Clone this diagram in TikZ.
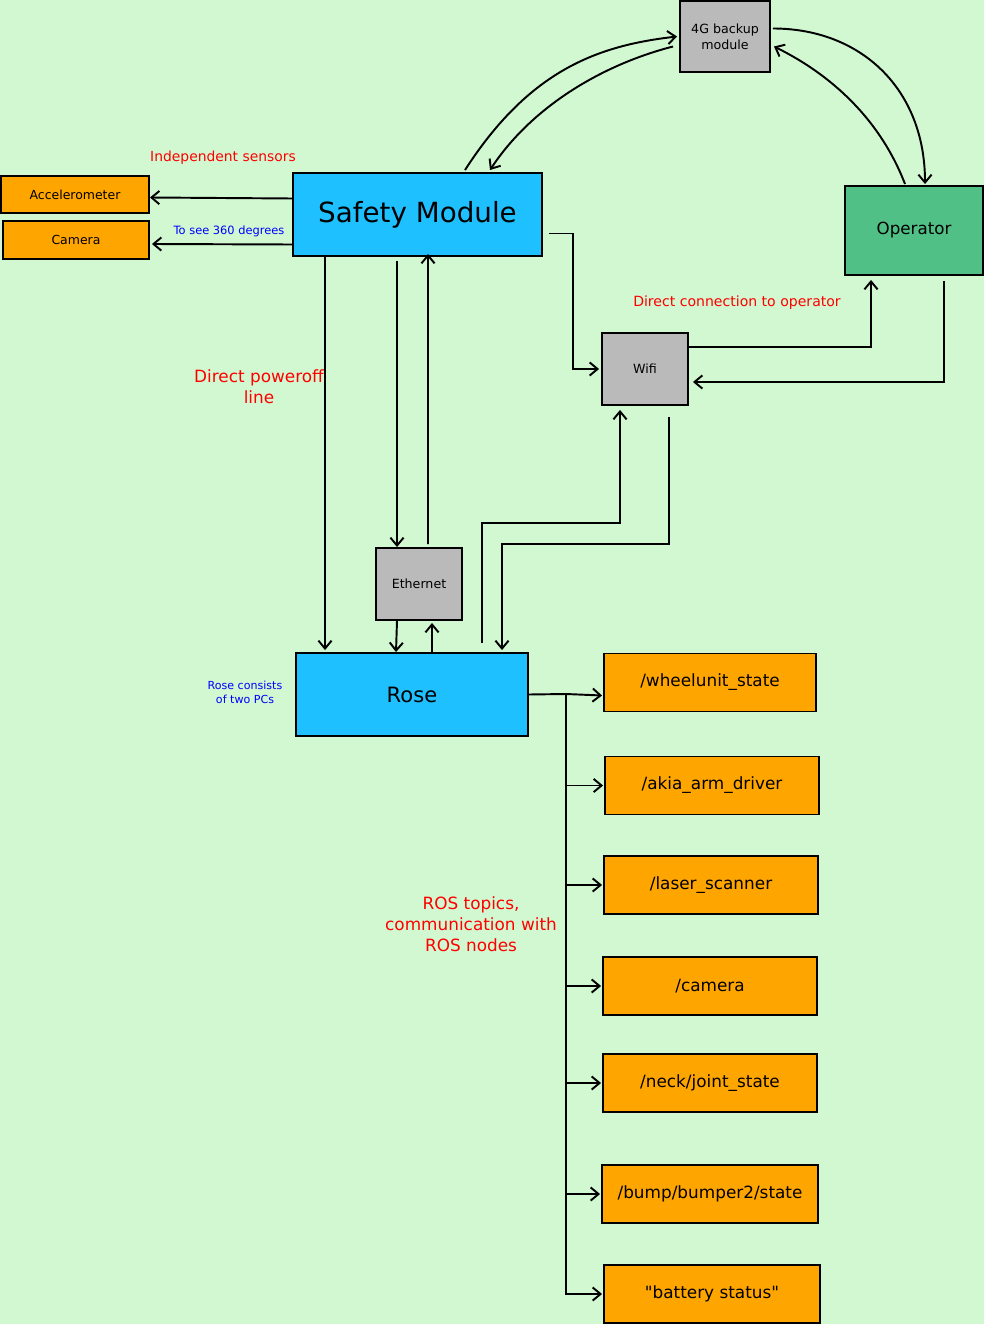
\documentclass[tikz,border=0pt]{standalone}
\usepackage{fontspec}
\setmainfont{DejaVu Sans}
\usetikzlibrary{arrows.meta,calc}
\definecolor{bggreen}{HTML}{D2F8D2}
\definecolor{boxorange}{HTML}{FFA500}
\definecolor{boxcyan}{HTML}{1EC0FF}
\definecolor{boxgray}{HTML}{BABABA}
\definecolor{opgreen}{HTML}{50C087}
\newcommand{\fs}[2]{\fontsize{#1}{#2}\selectfont}

\begin{document}
\begin{tikzpicture}[
  x=0.02cm, y=-0.02cm,
  every node/.style={inner sep=0pt},
  box/.style={draw=black, line width=1.1pt, align=center},
  sensor/.style={box, fill=boxorange, font=\fs{7.1}{8.5}},
  main/.style={box, fill=boxcyan},
  link/.style={box, fill=boxgray, minimum width=1.72cm, minimum height=1.44cm, font=\fs{7.2}{9}},
  topic/.style={box, fill=boxorange, minimum width=4.28cm, minimum height=1.16cm, font=\fs{9.6}{11}},
  arrow/.style={-{Straight Barb[length=4.5pt,width=7.5pt]}, line width=1.1pt},
  rednote/.style={align=center, text=red},
  bluenote/.style={align=center, text=blue}
]
\fill[bggreen] (0,0) rectangle (984,1324);
\useasboundingbox (0,0) rectangle (984,1324);

% boxes
\node[link, minimum width=1.8cm, minimum height=1.42cm] (g4) at (725,36.5) {4G backup\\module};
\node[main, minimum width=4.98cm, minimum height=1.66cm, font=\fs{15.8}{18}] (safety) at (417.5,214.5) {Safety Module};
\node[sensor, minimum width=2.96cm, minimum height=0.74cm] (acc) at (75,194.5) {Accelerometer};
\node[sensor, minimum width=2.92cm, minimum height=0.76cm] (cam) at (76,240) {Camera};
\node[box, fill=opgreen, minimum width=2.76cm, minimum height=1.78cm, font=\fs{9.5}{11}] (op) at (914,230.5) {Operator};
\node[link] (wifi) at (645,369) {Wifi};
\node[link] (eth) at (419,584) {Ethernet};
\node[main, minimum width=4.64cm, minimum height=1.66cm, font=\fs{12}{14}] (rose) at (412,694.5) {Rose};

% ROS topics
\node[topic, minimum width=4.24cm] (wheel) at (710,682.5) {/wheelunit\_state};
\node[topic] (akia) at (712,785.5) {/akia\_arm\_driver};
\node[topic] (laser) at (711,885) {/laser\_scanner};
\node[topic] (camtopic) at (710,986) {/camera};
\node[topic] (neck) at (710,1083) {/neck/joint\_state};
\node[topic, minimum width=4.32cm] (bump) at (710,1194) {/bump/bumper2/state};
\node[topic, minimum width=4.32cm] (batt) at (712,1294) {\textquotedbl battery status\textquotedbl};

% labels
\node[rednote, font=\fs{7.9}{9.5}] (lblsens) at (223,158) {Independent sensors};
\node[bluenote, font=\fs{6.5}{8}] (lbl360) at (229,231) {To see 360 degrees};
\node[rednote, font=\fs{9.6}{12}] (lblpower) at (259,386.5) {Direct poweroff\\line};
\node[rednote, font=\fs{8}{9.5}] (lbldirect) at (737,303) {Direct connection to operator};
\node[bluenote, font=\fs{6.3}{8}] (lblpcs) at (245,692) {Rose consists\\of two PCs};
\node[rednote, font=\fs{9.6}{12}] (lblros) at (471,924) {ROS topics,\\communication with\\ROS nodes};

% sensors
\draw[arrow] ($(safety.west)+(0,-16)$) -- ($(acc.east)+(0,3)$);
\draw[arrow] ($(safety.west)+(0,30)$) -- ($(cam.east)+(2,4)$);

% 4G backup links
\draw[arrow] ($(safety.north)+(47.5,-2)$) .. controls +(65,-101) and +(-78,9) .. ($(g4.west)+(-2,0)$);
\draw[arrow] ($(g4.west)+(-6,10)$) .. controls +(-74,19) and +(40,-61) .. ($(safety.north)+(72.5,-2)$);
\draw[arrow] ($(g4.east)+(2,-8)$) .. controls +(88,0) and +(0,-95) .. ($(op.north)+(11,-1)$);
\draw[arrow] ($(op.north)+(-9,-1)$) .. controls +(-25,-65) and +(57,28) .. ($(g4.east)+(3,10)$);

% wifi links
\draw[arrow] ($(safety.east)+(6,19)$) -| ($(wifi.west)+(-28,0)$) -- ($(wifi.west)+(-2,0)$);
\draw[arrow] ($(wifi.east)+(0,-22)$) -| ($(op.south)+(-43,4)$);
\draw[arrow] ($(op.south)+(30,5)$) |- ($(wifi.east)+(4,13)$);
\draw[arrow] ($(rose.north)+(70,-9)$) -- ++(0,-120) -| ($(wifi.south)+(-25,4)$);
\draw[arrow] ($(wifi.south)+(24,11)$) -- ++(0,127) -| ($(rose.north)+(90,-2)$);

% ethernet and poweroff
\draw[arrow] ($(safety.south)+(-92.5,0)$) -- ($(rose.north)+(-87,-2)$);
\draw[arrow] ($(safety.south)+(-20.5,4)$) -- ($(eth.north)+(-22,0)$);
\draw[arrow] ($(eth.north)+(9,-3)$) -- ($(safety.south)+(10.5,-3)$);
\draw[arrow] ($(eth.south)+(-22,0)$) -- ($(rose.north)+(-16,0)$);
\draw[arrow] ($(rose.north)+(20,0)$) -- ($(eth.south)+(13,2)$);

% ROS topics fan-out
\coordinate (trunk) at (566,694);
\draw[arrow] (rose.east) -- (trunk) -- ($(wheel.west)+(-1,13)$);
\foreach \t in {akia,laser,camtopic,neck,bump,batt}
  \draw[arrow] (trunk) |- ($(\t.west)+(-1,0)$);
\end{tikzpicture}
\end{document}
